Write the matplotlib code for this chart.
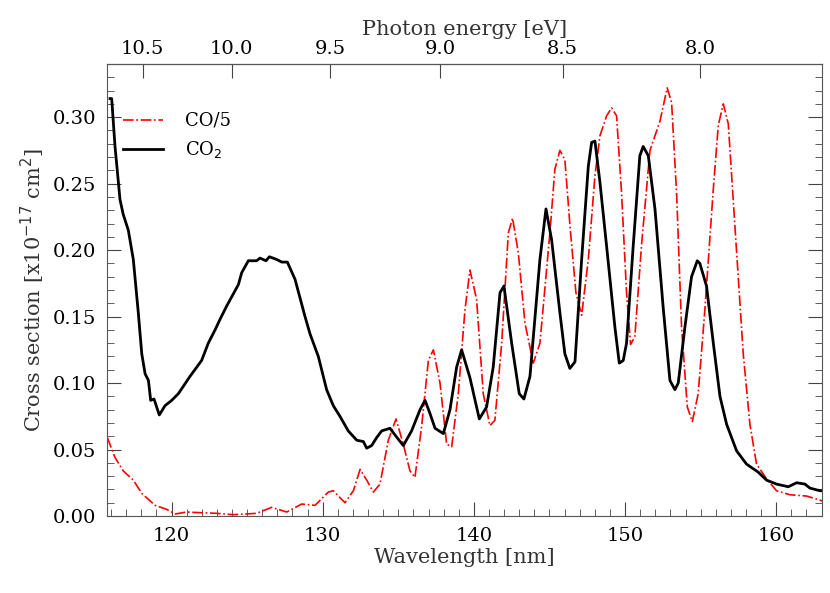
import numpy as np
import matplotlib.pyplot as plt
from matplotlib.ticker import MultipleLocator, FixedLocator, NullLocator

plt.rcParams['font.family'] = ['DejaVu Serif']

# CO2 cross section (x1e-17 cm^2) vs wavelength (nm)
co2_wl = [115.93, 116.04, 116.26, 116.59, 116.8, 117.14, 117.47, 117.8, 118.03, 118.25,
          118.47, 118.62, 118.84, 119.19, 119.57, 120.01, 120.45, 121.22, 121.99, 122.43,
          122.88, 123.21, 123.65, 124.42, 124.64, 125.08, 125.63, 125.85, 126.25, 126.47,
          126.95, 127.29, 127.66, 128.17, 128.5, 128.83, 129.16, 129.71, 130.26, 130.7,
          131.14, 131.69, 132.25, 132.69, 132.91, 133.24, 133.57, 133.9, 134.45, 134.78,
          135.33, 135.88, 136.44, 136.77, 137.1, 137.43, 137.98, 138.42, 138.86, 139.19,
          139.74, 140.36, 140.84, 141.28, 141.73, 141.99, 142.5, 143.0, 143.31, 143.71,
          144.37, 144.77, 145.14, 145.69, 146.02, 146.35, 146.69, 147.13, 147.57, 147.79,
          148.01, 148.34, 148.78, 149.33, 149.62, 149.88, 150.1, 150.54, 150.98, 151.2,
          151.54, 151.98, 152.53, 152.97, 153.3, 153.52, 153.96, 154.4, 154.78, 154.95,
          155.39, 155.84, 156.28, 156.72, 157.38, 158.04, 158.81, 159.36, 160.02, 160.8,
          161.35, 161.9, 162.23, 162.89, 163.1]
co2_xs = [0.314, 0.314, 0.278, 0.238, 0.227, 0.215, 0.193, 0.153, 0.122, 0.107,
          0.102, 0.087, 0.088, 0.076, 0.083, 0.087, 0.092, 0.105, 0.117, 0.130,
          0.140, 0.148, 0.158, 0.174, 0.183, 0.192, 0.192, 0.194, 0.192, 0.195,
          0.193, 0.191, 0.191, 0.178, 0.164, 0.150, 0.137, 0.120, 0.095, 0.083,
          0.075, 0.064, 0.057, 0.056, 0.051, 0.053, 0.059, 0.064, 0.066, 0.061,
          0.053, 0.064, 0.080, 0.087, 0.077, 0.066, 0.062, 0.080, 0.112, 0.125,
          0.104, 0.073, 0.082, 0.112, 0.168, 0.173, 0.130, 0.092, 0.088, 0.105,
          0.193, 0.231, 0.208, 0.153, 0.122, 0.111, 0.116, 0.193, 0.263, 0.281,
          0.282, 0.251, 0.203, 0.142, 0.115, 0.117, 0.130, 0.203, 0.271, 0.278,
          0.271, 0.231, 0.156, 0.102, 0.095, 0.100, 0.142, 0.180, 0.192, 0.190,
          0.173, 0.130, 0.090, 0.069, 0.049, 0.039, 0.033, 0.027, 0.024, 0.022,
          0.025, 0.024, 0.021, 0.019, 0.019]

# CO cross section / 5
co_wl = [115.75, 116.26, 116.8, 117.47, 118.03, 118.91, 119.68, 120.23, 121.0, 121.88,
         122.99, 124.09, 125.63, 126.62, 127.62, 128.61, 129.49, 130.37, 130.7, 131.47,
         132.03, 132.47, 132.91, 133.35, 133.79, 134.34, 134.85, 135.33, 135.77, 136.1,
         136.54, 136.99, 137.32, 137.76, 138.2, 138.53, 138.97, 139.41, 139.74, 140.18,
         140.62, 141.06, 141.39, 141.84, 142.28, 142.56, 142.94, 143.38, 143.93, 144.37,
         145.03, 145.36, 145.69, 146.02, 146.36, 146.75, 147.13, 147.57, 148.01, 148.34,
         148.78, 149.11, 149.44, 149.77, 150.1, 150.37, 150.65, 151.1, 151.65, 152.31,
         152.79, 153.08, 153.41, 153.74, 154.12, 154.45, 154.84, 155.28, 155.84, 156.17,
         156.5, 156.83, 157.27, 157.82, 158.26, 158.7, 159.36, 160.02, 160.9, 162.01,
         162.89, 163.1]
co_xs = [0.059, 0.044, 0.034, 0.027, 0.017, 0.008, 0.005, 0.0015, 0.003, 0.0025,
         0.002, 0.001, 0.002, 0.0065, 0.003, 0.009, 0.008, 0.018, 0.019, 0.010,
         0.019, 0.035, 0.027, 0.018, 0.024, 0.057, 0.073, 0.054, 0.034, 0.029,
         0.067, 0.117, 0.125, 0.100, 0.054, 0.052, 0.092, 0.155, 0.185, 0.163,
         0.092, 0.068, 0.072, 0.130, 0.213, 0.224, 0.198, 0.145, 0.115, 0.130,
         0.213, 0.261, 0.275, 0.268, 0.218, 0.168, 0.151, 0.193, 0.256, 0.286,
         0.301, 0.307, 0.301, 0.243, 0.168, 0.129, 0.135, 0.205, 0.275, 0.297,
         0.322, 0.311, 0.243, 0.142, 0.082, 0.071, 0.092, 0.155, 0.246, 0.294,
         0.310, 0.295, 0.218, 0.122, 0.069, 0.039, 0.028, 0.019, 0.016, 0.015,
         0.012, 0.011]

energy_ticks = [10.5, 10.0, 9.5, 9.0, 8.5, 8.0]
HC = 1239.84  # eV nm

fig = plt.figure(figsize=(8.3, 5.93), dpi=100)
ax = fig.add_axes([107/830, 1 - 516/593, 715/830, 452/593])

ax.plot(co_wl, co_xs, color='red', linestyle='-.', linewidth=1.2, label='CO/5')
ax.plot(co2_wl, co2_xs, color='black', linewidth=2, label='CO$_2$')

ax.set_xlim(115.73, 163.03)
ax.set_ylim(0, 0.34)
ax.xaxis.set_major_locator(MultipleLocator(10))
ax.xaxis.set_minor_locator(MultipleLocator(1))
ax.yaxis.set_major_locator(MultipleLocator(0.05))
ax.yaxis.set_minor_locator(MultipleLocator(0.01))
ax.yaxis.set_major_formatter(plt.FormatStrFormatter('%.2f'))
ax.tick_params(which='both', direction='in', top=False, right=True, labelsize=14, color='#444444')
ax.tick_params(which='major', length=10, pad=8)
ax.tick_params(which='minor', length=5)
for s in ax.spines.values():
    s.set_color('#555555')

ax.set_xlabel('Wavelength [nm]', fontsize=15, color='#333333', labelpad=2)
ax.set_ylabel('Cross section [x10$^{-17}$ cm$^2$]', fontsize=15, color='#333333')

sec = ax.secondary_xaxis('top', functions=(lambda w: HC / np.asarray(w, dtype=float),
                                           lambda e: HC / np.asarray(e, dtype=float)))
sec.xaxis.set_major_locator(FixedLocator(energy_ticks))
sec.xaxis.set_minor_locator(NullLocator())
sec.xaxis.set_major_formatter(plt.FormatStrFormatter('%.1f'))
sec.tick_params(direction='in', length=10, labelsize=14, pad=4, color='#444444')
sec.set_xlabel('Photon energy [eV]', fontsize=15, color='#333333', labelpad=4)

ax.legend(loc='upper left', bbox_to_anchor=(0.0, 0.93), frameon=False, fontsize=13,
          handlelength=2.2, handletextpad=1.2)

fig.savefig('out.png', dpi=100)
